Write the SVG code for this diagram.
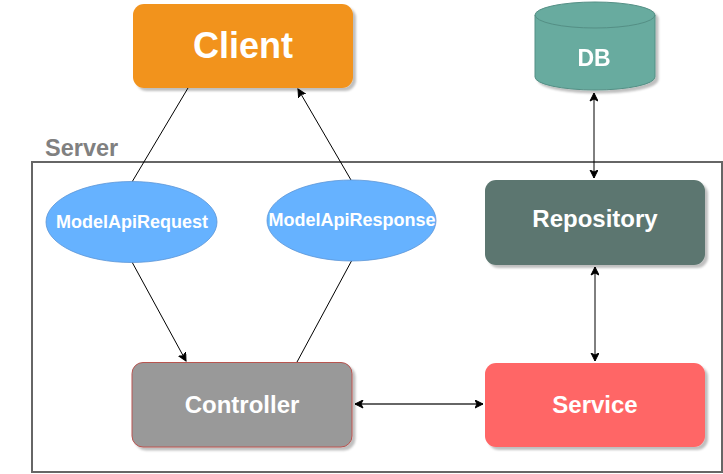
<svg xmlns="http://www.w3.org/2000/svg" width="723" height="474" viewBox="0 0 723 474">
<defs>
<filter id="sh" x="-10%" y="-10%" width="130%" height="130%">
<feDropShadow dx="3" dy="3" stdDeviation="1" flood-color="#000" flood-opacity="0.25"/>
</filter>
<marker id="ae" markerWidth="10" markerHeight="10" refX="8" refY="4" orient="auto" markerUnits="userSpaceOnUse">
<path d="M0,0 L8,4 L0,8 L2,4 Z" fill="#000" stroke="#000" stroke-width="1"/>
</marker>
<marker id="as" markerWidth="10" markerHeight="10" refX="0" refY="4" orient="auto" markerUnits="userSpaceOnUse">
<path d="M8,0 L0,4 L8,8 L6,4 Z" fill="#000" stroke="#000" stroke-width="1"/>
</marker>
</defs>
<style>
.t{font-family:"Liberation Sans",Arial,sans-serif;font-weight:bold;fill:#fff;text-anchor:middle;dominant-baseline:central}
.c{fill:none;stroke:#000;stroke-width:1}
</style>
<rect width="723" height="474" fill="#fff"/>
<g id="server">
<rect x="32" y="162" width="690" height="310" fill="none" stroke="#666" stroke-width="2"/>
<text x="45" y="148" font-family="'Liberation Sans',Arial,sans-serif" font-weight="bold" font-size="23.5" fill="#808080" dominant-baseline="central">Server</text>
</g>
<g id="connectors">
<line class="c" x1="188" y1="88" x2="132" y2="182"/>
<line class="c" x1="132" y1="262" x2="186" y2="361" marker-end="url(#ae)"/>
<line class="c" x1="352" y1="260" x2="297" y2="362"/>
<line class="c" x1="351" y1="180" x2="298" y2="89" marker-end="url(#ae)"/>
<line class="c" x1="594" y1="93" x2="594" y2="178" marker-start="url(#as)" marker-end="url(#ae)"/>
<line class="c" x1="595" y1="267" x2="595" y2="361" marker-start="url(#as)" marker-end="url(#ae)"/>
<line x1="355" y1="404" x2="483" y2="404" stroke="#666" stroke-width="2" marker-start="url(#as)" marker-end="url(#ae)"/>
</g>
<g id="client">
<rect x="133" y="4" width="220" height="84" rx="11" fill="#F2931E" filter="url(#sh)"/>
<text class="t" x="243" y="45" font-size="36">Client</text>
</g>
<g id="db" filter="url(#sh)">
<path d="M535,15 L535,77 A60,13 0 0 0 655,77 L655,15 A60,13 0 0 0 535,15 Z" fill="#67AB9F" stroke="#558f85" stroke-width="1"/>
<path d="M535,15 A60,13 0 0 0 655,15" fill="none" stroke="#558f85" stroke-width="1"/>
<text class="t" x="594" y="58" font-size="23">DB</text>
</g>
<g id="repository">
<rect x="485" y="180" width="220" height="85" rx="11" fill="#5B766F" filter="url(#sh)"/>
<text class="t" x="595" y="218" font-size="24">Repository</text>
</g>
<g id="service">
<rect x="485" y="363" width="220" height="84" rx="11" fill="#FF6666" filter="url(#sh)"/>
<text class="t" x="595" y="404" font-size="24">Service</text>
</g>
<g id="controller">
<rect x="132" y="362.5" width="220" height="84.5" rx="11" fill="#999999" stroke="#B85450" stroke-width="1" filter="url(#sh)"/>
<text class="t" x="242" y="404" font-size="24">Controller</text>
</g>
<g id="modelApiRequest">
<ellipse cx="131.5" cy="222" rx="85.5" ry="40.5" fill="#66B2FF" stroke="#5d96d6" stroke-width="0.8"/>
<text class="t" x="132" y="222" font-size="18">ModelApiRequest</text>
</g>
<g id="modelApiResponse">
<ellipse cx="351.5" cy="220.5" rx="84.5" ry="40.5" fill="#66B2FF" stroke="#5d96d6" stroke-width="0.8"/>
<text class="t" x="352" y="220" font-size="18">ModelApiResponse</text>
</g>
</svg>
